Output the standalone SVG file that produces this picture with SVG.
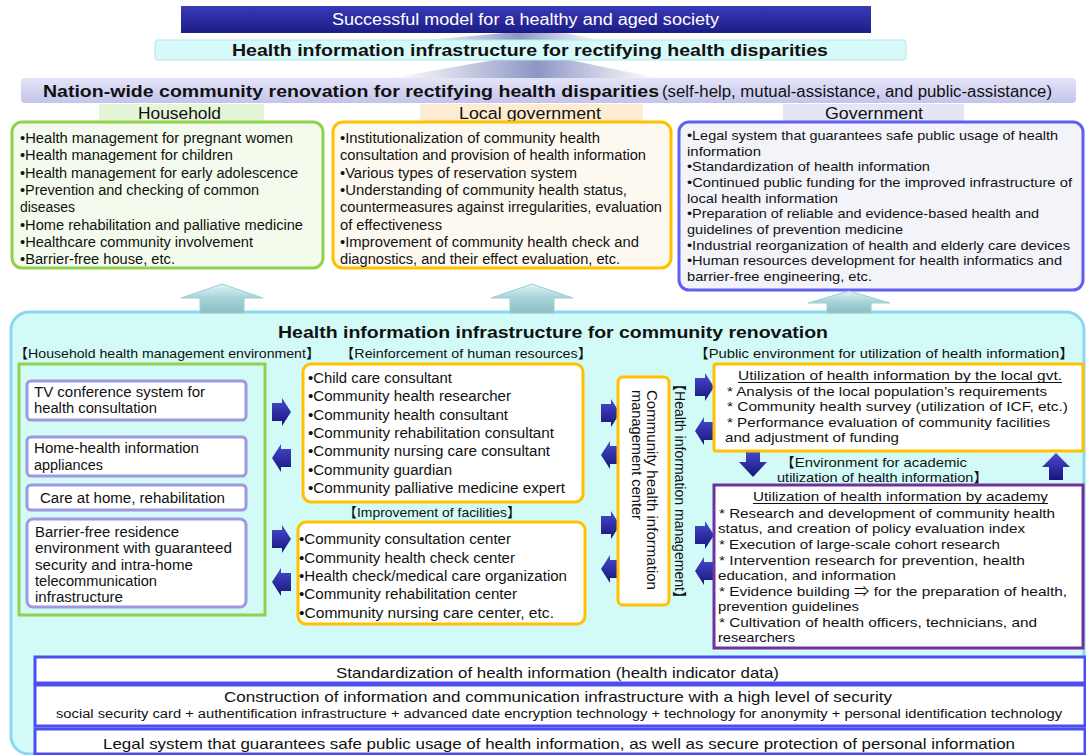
<svg xmlns="http://www.w3.org/2000/svg" width="1086" height="755" viewBox="0 0 1086 755">
<style>
text{font-family:"Liberation Sans",Arial,"Noto Sans CJK JP",sans-serif;fill:#111;}
.t14{font-size:14px;}
.t13{font-size:13.5px;}
.lbl{font-size:16px;}
.b{font-weight:bold;}
.w{fill:#fff;}
.navy{fill:url(#gNavy);}
.teal{fill:url(#gTeal);stroke:#9ccfd4;stroke-width:1;}
.item{fill:#fff;stroke:#9d98e0;stroke-width:3;}
.org{fill:#fff;stroke:#ffc000;stroke-width:3;}
.bot{fill:#fff;stroke:#4d4df0;stroke-width:3;}
</style>
<defs>
<linearGradient id="gNavy" x1="0" y1="0" x2="0" y2="1"><stop offset="0" stop-color="#4a4ad2"/><stop offset="1" stop-color="#15157a"/></linearGradient>
<linearGradient id="gTeal" x1="0" y1="0" x2="0" y2="1"><stop offset="0" stop-color="#dff7f8"/><stop offset="0.45" stop-color="#a9d6da"/><stop offset="1" stop-color="#8bbec3"/></linearGradient>
<linearGradient id="gB1" x1="0" y1="0" x2="0" y2="1"><stop offset="0" stop-color="#3a3ab8"/><stop offset="1" stop-color="#1c1c86"/></linearGradient>
<linearGradient id="gB3" x1="0" y1="0" x2="0" y2="1"><stop offset="0" stop-color="#e4e4f8"/><stop offset="1" stop-color="#c4c4ec"/></linearGradient>
<linearGradient id="gWedge" x1="0" y1="0" x2="1" y2="0"><stop offset="0" stop-color="#9aa2cc" stop-opacity="0"/><stop offset="0.55" stop-color="#8d96c4"/><stop offset="1" stop-color="#9aa2cc" stop-opacity="0"/></linearGradient>
<path id="arR" d="M0,5 L10,5 L10,0 L19,14 L10,28 L10,23 L0,23 Z"/>
<path id="arL" d="M19,5 L9,5 L9,0 L0,14 L9,28 L9,23 L19,23 Z"/>
</defs>

<rect width="1086" height="755" fill="#fff"/>

<!-- top banners -->
<g id="banner-model">
<polygon points="415,41 604,41 560,32 515,32" fill="url(#gWedge)"/>
<rect x="181" y="6" width="690" height="27" fill="url(#gB1)"/>
<text x="332" y="25" class="w" font-size="16" textLength="387" lengthAdjust="spacingAndGlyphs">Successful model for a healthy and aged society</text>
</g>
<g id="banner-infra">
<polygon points="391,78 657,78 565,59 500,59" fill="url(#gWedge)"/>
<rect x="155" y="40" width="751" height="20" rx="3" fill="#d6fafa" stroke="#b2e6ea" stroke-width="1"/>
<text x="232" y="56" class="b" font-size="17" textLength="596" lengthAdjust="spacingAndGlyphs">Health information infrastructure for rectifying health disparities</text>
</g>
<g id="banner-nation">
<rect x="21" y="78" width="1055" height="25" rx="4" fill="url(#gB3)"/>
<text x="43" y="97" class="b" font-size="17" textLength="616" lengthAdjust="spacingAndGlyphs">Nation-wide community renovation for rectifying health disparities</text>
<text x="662" y="97" font-size="16" textLength="390" lengthAdjust="spacingAndGlyphs">(self-help, mutual-assistance, and public-assistance)</text>
</g>

<!-- Household -->
<g id="household">
<rect x="99" y="104" width="165" height="17" fill="#e4f5d8"/>
<text x="138" y="119" class="lbl" textLength="83" lengthAdjust="spacingAndGlyphs">Household</text>
<rect x="12" y="122" width="311" height="146" rx="10" fill="#f3fbec" stroke="#92d050" stroke-width="3"/>
<g class="t14">
<text x="20" y="143" textLength="273" lengthAdjust="spacingAndGlyphs">•Health management for pregnant women</text>
<text x="20" y="160.3" textLength="213" lengthAdjust="spacingAndGlyphs">•Health management for children</text>
<text x="20" y="177.6" textLength="278" lengthAdjust="spacingAndGlyphs">•Health management for early adolescence</text>
<text x="20" y="194.9" textLength="239" lengthAdjust="spacingAndGlyphs">•Prevention and checking of common</text>
<text x="20" y="212.2" textLength="55" lengthAdjust="spacingAndGlyphs">diseases</text>
<text x="20" y="229.5" textLength="283" lengthAdjust="spacingAndGlyphs">•Home rehabilitation and palliative medicine</text>
<text x="20" y="246.8" textLength="233" lengthAdjust="spacingAndGlyphs">•Healthcare community involvement</text>
<text x="20" y="264.1" textLength="155" lengthAdjust="spacingAndGlyphs">•Barrier-free house, etc.</text>
</g>
</g>

<!-- Local government -->
<g id="local-government">
<rect x="420" y="104" width="223" height="17" fill="#fdebd2"/>
<text x="530" y="119" class="lbl" text-anchor="middle" textLength="142" lengthAdjust="spacingAndGlyphs">Local government</text>
<rect x="333" y="122" width="338" height="146" rx="10" fill="#fdf9f1" stroke="#ffc000" stroke-width="3"/>
<g class="t14">
<text x="340" y="143" textLength="260" lengthAdjust="spacingAndGlyphs">•Institutionalization of community health</text>
<text x="340" y="160.3" textLength="306" lengthAdjust="spacingAndGlyphs">consultation and provision of health information</text>
<text x="340" y="177.6" textLength="237" lengthAdjust="spacingAndGlyphs">•Various types of reservation system</text>
<text x="340" y="194.9" textLength="287" lengthAdjust="spacingAndGlyphs">•Understanding of community health status,</text>
<text x="340" y="212.2" textLength="322" lengthAdjust="spacingAndGlyphs">countermeasures against irregularities, evaluation</text>
<text x="340" y="229.5" textLength="102" lengthAdjust="spacingAndGlyphs">of effectiveness</text>
<text x="340" y="246.8" textLength="299" lengthAdjust="spacingAndGlyphs">•Improvement of community health check and</text>
<text x="340" y="264.1" textLength="280" lengthAdjust="spacingAndGlyphs">diagnostics, and their effect evaluation, etc.</text>
</g>
</g>

<!-- Government -->
<g id="government">
<rect x="783" y="104" width="181" height="17" fill="#e5e5f5"/>
<text x="874" y="119" class="lbl" text-anchor="middle" textLength="98" lengthAdjust="spacingAndGlyphs">Government</text>
<rect x="679" y="122" width="404" height="168" rx="10" fill="#f3f3fa" stroke="#5f5ff0" stroke-width="3"/>
<g class="t13">
<text x="687" y="140" textLength="371" lengthAdjust="spacingAndGlyphs">•Legal system that guarantees safe public usage of health</text>
<text x="687" y="155.7" textLength="74" lengthAdjust="spacingAndGlyphs">information</text>
<text x="687" y="171.3" textLength="243" lengthAdjust="spacingAndGlyphs">•Standardization of health information</text>
<text x="687" y="187" textLength="385" lengthAdjust="spacingAndGlyphs">•Continued public funding for the improved infrastructure of</text>
<text x="687" y="202.6" textLength="151" lengthAdjust="spacingAndGlyphs">local health information</text>
<text x="687" y="218.3" textLength="352" lengthAdjust="spacingAndGlyphs">•Preparation of reliable and evidence-based health and</text>
<text x="687" y="233.9" textLength="216" lengthAdjust="spacingAndGlyphs">guidelines of prevention medicine</text>
<text x="687" y="249.6" textLength="383" lengthAdjust="spacingAndGlyphs">•Industrial reorganization of health and elderly care devices</text>
<text x="687" y="265.2" textLength="375" lengthAdjust="spacingAndGlyphs">•Human resources development for health informatics and</text>
<text x="687" y="280.9" textLength="185" lengthAdjust="spacingAndGlyphs">barrier-free engineering, etc.</text>
</g>
</g>

<!-- Big infrastructure box -->
<g id="community-infra">
<rect x="11" y="312" width="1073" height="442" rx="18" fill="#d2fbf7" stroke="#8ad8f0" stroke-width="3"/>
<text x="278" y="338" class="b" font-size="17" textLength="550" lengthAdjust="spacingAndGlyphs">Health information infrastructure for community renovation</text>
<g class="t13">
<text x="14" y="358" textLength="306" lengthAdjust="spacingAndGlyphs">【Household health management environment】</text>
<text x="340" y="358" textLength="252" lengthAdjust="spacingAndGlyphs">【Reinforcement of human resources】</text>
<text x="694" y="358" textLength="380" lengthAdjust="spacingAndGlyphs">【Public environment for utilization of health information】</text>
</g>
</g>

<!-- up arrows (connectors to upper tier) -->
<g id="connectors">
<path class="teal" d="M222,284 L263,298 L244,298 L244,313 L200,313 L200,298 L181,298 Z"/>
<path class="teal" d="M532,284 L573,298 L554,298 L554,313 L510,313 L510,298 L491,298 Z"/>
<path class="teal" d="M849,291 L890,303 L871,303 L871,313 L827,313 L827,303 L808,303 Z"/>
<!-- navy arrows: household <-> human resources/facilities -->
<use href="#arR" class="navy" transform="translate(272,398)"/>
<use href="#arL" class="navy" transform="translate(272,444)"/>
<use href="#arR" class="navy" transform="translate(272,525)"/>
<use href="#arL" class="navy" transform="translate(272,568)"/>
<!-- human resources/facilities <-> center -->
<use href="#arR" class="navy" transform="translate(601,399)"/>
<use href="#arL" class="navy" transform="translate(601,441)"/>
<use href="#arR" class="navy" transform="translate(601,511)"/>
<use href="#arL" class="navy" transform="translate(601,555)"/>
<!-- center <-> public environment -->
<use href="#arR" class="navy" transform="translate(695,373)"/>
<use href="#arL" class="navy" transform="translate(695,417)"/>
<use href="#arR" class="navy" transform="translate(695,521)"/>
<use href="#arL" class="navy" transform="translate(695,557)"/>
<!-- vertical between local gvt and academy -->
<path class="navy" d="M746,450 L760,450 L760,462 L767,462 L753,477 L739,462 L746,462 Z"/>
<path class="navy" d="M1056,453 L1070,467 L1063,467 L1063,480 L1049,480 L1049,467 L1042,467 Z"/>
</g>

<!-- household environment -->
<g id="household-env">
<rect x="19" y="364" width="246" height="251" fill="none" stroke="#92d050" stroke-width="3"/>
<g class="t14">
<rect x="27" y="381" width="219" height="39" rx="4" class="item"/>
<text x="34" y="397" textLength="171" lengthAdjust="spacingAndGlyphs">TV conference system for</text>
<text x="34" y="413" textLength="123" lengthAdjust="spacingAndGlyphs">health consultation</text>
<rect x="27" y="437" width="219" height="39" rx="4" class="item"/>
<text x="34" y="453" textLength="165" lengthAdjust="spacingAndGlyphs">Home-health information</text>
<text x="34" y="470" textLength="69" lengthAdjust="spacingAndGlyphs">appliances</text>
<rect x="27" y="485" width="219" height="25" rx="4" class="item"/>
<text x="40" y="503" textLength="185" lengthAdjust="spacingAndGlyphs">Care at home, rehabilitation</text>
<rect x="27" y="519" width="219" height="88" rx="6" class="item"/>
<text x="35" y="537" textLength="144" lengthAdjust="spacingAndGlyphs">Barrier-free residence</text>
<text x="35" y="553" textLength="197" lengthAdjust="spacingAndGlyphs">environment with guaranteed</text>
<text x="35" y="569.5" textLength="158" lengthAdjust="spacingAndGlyphs">security and intra-home</text>
<text x="35" y="586" textLength="122" lengthAdjust="spacingAndGlyphs">telecommunication</text>
<text x="35" y="602" textLength="88" lengthAdjust="spacingAndGlyphs">infrastructure</text>
</g>
</g>

<!-- human resources -->
<g id="human-resources">
<rect x="303" y="364" width="280" height="138" rx="8" class="org"/>
<g class="t14">
<text x="308" y="383" textLength="144" lengthAdjust="spacingAndGlyphs">•Child care consultant</text>
<text x="308" y="401.3" textLength="203" lengthAdjust="spacingAndGlyphs">•Community health researcher</text>
<text x="308" y="419.6" textLength="200" lengthAdjust="spacingAndGlyphs">•Community health consultant</text>
<text x="308" y="437.9" textLength="246" lengthAdjust="spacingAndGlyphs">•Community rehabilitation consultant</text>
<text x="308" y="456.2" textLength="242" lengthAdjust="spacingAndGlyphs">•Community nursing care consultant</text>
<text x="308" y="474.5" textLength="144" lengthAdjust="spacingAndGlyphs">•Community guardian</text>
<text x="308" y="492.8" textLength="257" lengthAdjust="spacingAndGlyphs">•Community palliative medicine expert</text>
</g>
</g>

<!-- facilities -->
<g id="facilities">
<text x="343" y="517" class="t13" textLength="178" lengthAdjust="spacingAndGlyphs">【Improvement of facilities】</text>
<rect x="298" y="522" width="287" height="102" rx="8" class="org"/>
<g class="t14">
<text x="299" y="544" textLength="212" lengthAdjust="spacingAndGlyphs">•Community consultation center</text>
<text x="299" y="562.5" textLength="216" lengthAdjust="spacingAndGlyphs">•Community health check center</text>
<text x="299" y="581" textLength="268" lengthAdjust="spacingAndGlyphs">•Health check/medical care organization</text>
<text x="299" y="599" textLength="218" lengthAdjust="spacingAndGlyphs">•Community rehabilitation center</text>
<text x="299" y="617.5" textLength="255" lengthAdjust="spacingAndGlyphs">•Community nursing care center,  etc.</text>
</g>
</g>

<!-- center -->
<g id="management-center">
<rect x="618" y="377" width="51" height="228" rx="5" class="org"/>
<text class="t14" transform="translate(647,390) rotate(90)" textLength="200" lengthAdjust="spacingAndGlyphs">Community health information</text>
<text class="t14" transform="translate(632,390) rotate(90)" textLength="130" lengthAdjust="spacingAndGlyphs">management center</text>
<text class="t14" transform="translate(675,377) rotate(90)" textLength="228" lengthAdjust="spacingAndGlyphs">【Health information management】</text>
</g>

<!-- local gvt utilization -->
<g id="local-gvt-use">
<rect x="714" y="364" width="369" height="87" class="org" rx="2"/>
<g class="t13">
<text x="738" y="380" textLength="324" lengthAdjust="spacingAndGlyphs">Utilization of health information by the local gvt.</text>
<line x1="738" y1="382.5" x2="1062" y2="382.5" stroke="#111" stroke-width="1.2"/>
<text x="727" y="395.5" textLength="320" lengthAdjust="spacingAndGlyphs">* Analysis of the local population’s requirements</text>
<text x="727" y="411" textLength="341" lengthAdjust="spacingAndGlyphs">* Community health survey (utilization of ICF, etc.)</text>
<text x="727" y="427" textLength="323" lengthAdjust="spacingAndGlyphs">* Performance evaluation of community facilities</text>
<text x="725" y="442" textLength="174" lengthAdjust="spacingAndGlyphs">and adjustment of funding</text>
<text x="780" y="467" textLength="187" lengthAdjust="spacingAndGlyphs">【Environment for academic</text>
<text x="777" y="482" textLength="211" lengthAdjust="spacingAndGlyphs">utilization of health information】</text>
</g>
</g>

<!-- academy utilization -->
<g id="academy-use">
<rect x="714" y="485" width="369" height="163" fill="#fff" stroke="#7030a0" stroke-width="3"/>
<g class="t13">
<text x="753" y="501" textLength="295" lengthAdjust="spacingAndGlyphs">Utilization of health information by academy</text>
<line x1="753" y1="503.5" x2="1048" y2="503.5" stroke="#111" stroke-width="1.2"/>
<text x="719" y="517.5" textLength="336" lengthAdjust="spacingAndGlyphs">* Research and development of community health</text>
<text x="718" y="533" textLength="307" lengthAdjust="spacingAndGlyphs">status, and creation of policy evaluation index</text>
<text x="719" y="549" textLength="281" lengthAdjust="spacingAndGlyphs">* Execution  of large-scale cohort research</text>
<text x="719" y="564.5" textLength="306" lengthAdjust="spacingAndGlyphs">* Intervention research for prevention, health</text>
<text x="718" y="580" textLength="178" lengthAdjust="spacingAndGlyphs">education, and information</text>
<text x="719" y="595.5" textLength="348" lengthAdjust="spacingAndGlyphs">* Evidence building ⇒ for the preparation of health,</text>
<text x="718" y="611" textLength="141" lengthAdjust="spacingAndGlyphs">prevention guidelines</text>
<text x="719" y="626.5" textLength="318" lengthAdjust="spacingAndGlyphs">* Cultivation of health officers, technicians,  and</text>
<text x="718" y="642" textLength="77" lengthAdjust="spacingAndGlyphs">researchers</text>
</g>
</g>

<!-- bottom layers -->
<g id="standardization">
<rect x="35" y="657" width="1050" height="26" class="bot"/>
<text x="336" y="678" font-size="15" textLength="443" lengthAdjust="spacingAndGlyphs">Standardization of health information (health indicator data)</text>
</g>
<g id="security-infra">
<rect x="35" y="685" width="1050" height="41" class="bot"/>
<text x="224" y="702" font-size="15" textLength="668" lengthAdjust="spacingAndGlyphs">Construction of information and communication infrastructure with a high level of security</text>
<text x="56" y="718" font-size="12" textLength="1006" lengthAdjust="spacingAndGlyphs">social security card + authentification infrastructure + advanced date encryption technology + technology for anonymity + personal identification technology</text>
</g>
<g id="legal-system">
<rect x="35" y="729" width="1050" height="25" class="bot"/>
<text x="103" y="749" font-size="15" textLength="912" lengthAdjust="spacingAndGlyphs">Legal system that guarantees safe public usage of health information, as well as secure protection of personal information</text>
</g>
</svg>
